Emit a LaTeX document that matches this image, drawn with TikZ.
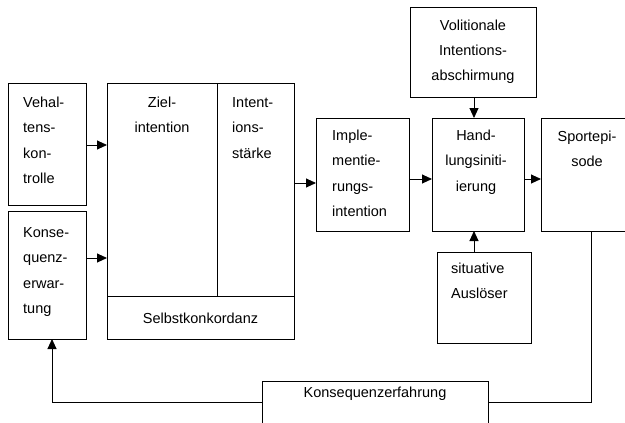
\documentclass[tikz,border=0pt]{standalone}
\usepackage{fontspec}
\setmainfont{Liberation Sans}
\usetikzlibrary{arrows.meta}
\begin{document}
\begin{tikzpicture}[x=1pt,y=-1pt,
  box/.style={draw, line width=0.9pt},
  txt/.style={inner sep=0pt, font=\fontsize{14.5}{25.5}\selectfont},
  % multi-line labels are anchored at the baseline of their last line
  ltxt/.style={txt, align=left, anchor=base west},
  ctxt/.style={txt, align=center, anchor=base},
  conn/.style={draw, line width=0.9pt},
  arr/.style={conn, -{Triangle[length=10pt,width=9pt]}}]
\useasboundingbox (0,0) rectangle (625,423);

% boxes, drawn as rectangles between corner coordinates
\path[box] (8,83) rectangle (86,205) coordinate[pos=0.5] (verh);
\path[box] (8,211) rectangle (86,339) coordinate[pos=0.5] (konerw);
\path[box] (107,83) rectangle (217,296) coordinate[pos=0.5] (ziel);
\path[box] (217,83) rectangle (294,296) coordinate[pos=0.5] (staerke);
\path[box] (107,296) rectangle (294,339) coordinate[pos=0.5] (selbst);
\path[box] (316,118) rectangle (409,231) coordinate[pos=0.5] (impl);
\path[box] (432,118) rectangle (524,231) coordinate[pos=0.5] (hand);
\path[box] (541,118) rectangle (632,231) coordinate[pos=0.5] (sport);
\path[box] (410,7) rectangle (536,97) coordinate[pos=0.5] (vol);
\path[box] (437,252) rectangle (531,343) coordinate[pos=0.5] (sit);
\path[box] (262,381) rectangle (488,430) coordinate[pos=0.5] (konerf);

% labels
\node[ltxt] (tverh) at (23,183.5) {Vehal-\\tens-\\kon-\\trolle};
\node[ltxt] (tkonerw) at (23,313.5) {Konse-\\quenz-\\erwar-\\tung};
\node[ctxt] (tziel) at (162,132.5) {Ziel-\\intention};
\node[ltxt] (tstaerke) at (232,158) {Intent-\\ions-\\stärke};
\node[ctxt] (tselbst) at (200.5,323) {Selbstkonkordanz};
\node[ltxt] (timpl) at (332,216.5) {Imple-\\mentie-\\rungs-\\intention};
\node[ctxt] (thand) at (476,191) {Hand-\\lungsiniti-\\ierung};
\node[ctxt] (tsport) at (587,166.5) {Sportepi-\\sode};
\node[ctxt] (tvol) at (473,81) {Volitionale\\Intentions-\\abschirmung};
\node[ltxt] (tsit) at (451,298.5) {situative\\Auslöser};
\node[ctxt] (tkonerf) at (375,397) {Konsequenzerfahrung};

% connector end points
\coordinate (loopL) at (52,402);
\coordinate (loopR) at (591,402);

% connectors
\draw[arr] (86,145) -- (107,145);
\draw[arr] (86,258) -- (107,258);
\draw[arr] (294,183) -- (316,183);
\draw[arr] (409,179) -- (432,179);
\draw[arr] (524,179) -- (541,179);
\draw[arr] (474,97) -- (474,118);
\draw[arr] (474,252) -- (474,231);
\draw[conn] (591,231) -- (loopR) -- (488,402);
\draw[arr] (262,402) -- (loopL) -- (52,339);
\end{tikzpicture}
\end{document}
